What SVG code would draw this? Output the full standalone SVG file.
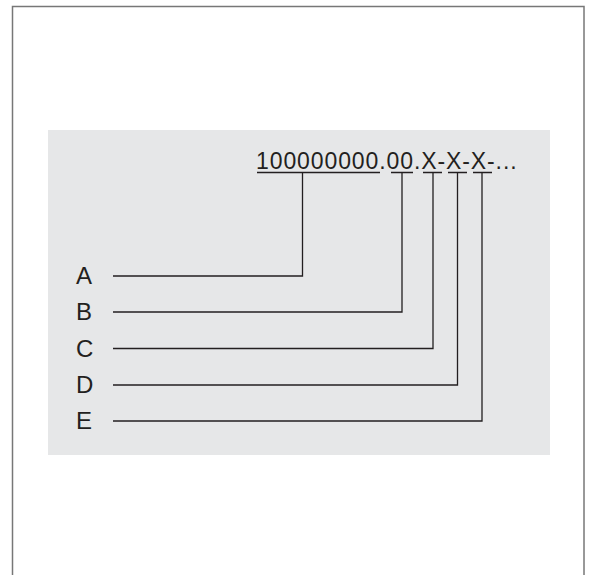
<svg xmlns="http://www.w3.org/2000/svg" width="589" height="575" viewBox="0 0 589 575">
<style>
.t{font-family:"Liberation Sans",Arial,sans-serif;font-size:23px;letter-spacing:0.9px;fill:#231f20}
.l{font-family:"Liberation Sans",Arial,sans-serif;font-size:24px;fill:#231f20}
.c{fill:none;stroke:#231f20;stroke-width:1.3}
</style>
<rect x="0" y="0" width="589" height="575" fill="#fff"/>
<rect x="12.5" y="6.5" width="571.5" height="580" fill="none" stroke="#777" stroke-width="1.5"/>
<rect x="48" y="130" width="502" height="325" fill="#e6e7e8"/>
<g id="code">
<text class="t" x="256" y="169">100000000.00.X-X-X-...</text>
<path class="c" d="M257 172.5H380M391 172.5H413M423 172.5H442M448 172.5H467M473 172.5H492"/>
</g>
<g id="A"><text class="l" x="76" y="284">A</text></g>
<g id="B"><text class="l" x="76" y="320">B</text></g>
<g id="C"><text class="l" x="76" y="357">C</text></g>
<g id="D"><text class="l" x="76" y="393">D</text></g>
<g id="E"><text class="l" x="76" y="429">E</text></g>
<g id="connectors">
<path class="c" d="M113 276H302.5V172.5"/>
<path class="c" d="M113 312H402V172.5"/>
<path class="c" d="M113 348.5H433V172.5"/>
<path class="c" d="M113 385H457.5V172.5"/>
<path class="c" d="M113 421H482V172.5"/>
</g>
</svg>
